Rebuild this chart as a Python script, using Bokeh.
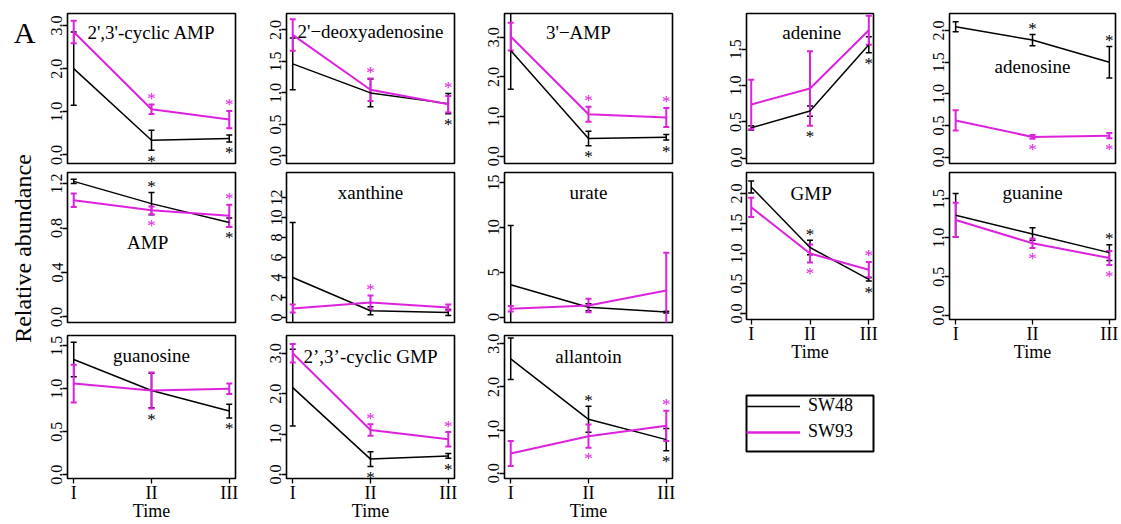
import math
from bokeh.plotting import figure
from bokeh.models import (Range1d, FixedTicker, ColumnDataSource, Whisker, TeeHead,
                          Label, Legend, LegendItem)
from bokeh.layouts import row, column
from bokeh.core.properties import value
from bokeh.embed import file_html
from bokeh.resources import INLINE

FONT = "Liberation Serif"
BLACK = "#000000"
MAGENTA = "#DD22DD"

# ---------------- data ----------------
time_points = [1, 2, 3]
time_labels = ["I", "II", "III"]
series_names = ["SW48", "SW93"]

# star flags: 1 = asterisk above the error bars, -1 = below, 0 = none
cAMP_sw48 = [2.0, 0.34, 0.38];   cAMP_sw48_err = [0.85, 0.23, 0.08];  cAMP_sw48_star = [0, -1, -1]
cAMP_sw93 = [2.85, 1.06, 0.82];  cAMP_sw93_err = [0.26, 0.11, 0.20];  cAMP_sw93_star = [0, 1, 1]
cAMP_ticks = [0, 1, 2, 3];       cAMP_tick_labels = ["0.0", "1.0", "2.0", "3.0"]

dAdo_sw48 = [1.46, 1.0, 0.83];   dAdo_sw48_err = [0.41, 0.22, 0.16];  dAdo_sw48_star = [0, 0, -1]
dAdo_sw93 = [1.92, 1.05, 0.82];  dAdo_sw93_err = [0.25, 0.18, 0.13];  dAdo_sw93_star = [0, 1, 1]
dAdo_ticks = [0, 0.5, 1, 1.5, 2]; dAdo_tick_labels = ["0.0", "0.5", "1.0", "1.5", "2.0"]

AMP3_sw48 = [2.67, 0.45, 0.48];  AMP3_sw48_err = [0.98, 0.18, 0.07];  AMP3_sw48_star = [0, -1, -1]
AMP3_sw93 = [3.02, 1.06, 0.98];  AMP3_sw93_err = [0.35, 0.19, 0.24];  AMP3_sw93_star = [0, 1, 1]
AMP3_ticks = [0, 1, 2, 3];       AMP3_tick_labels = ["0.0", "1.0", "2.0", "3.0"]

ade_sw48 = [0.42, 0.65, 1.56];   ade_sw48_err = [0.03, 0.07, 0.11];   ade_sw48_star = [0, -1, -1]
ade_sw93 = [0.74, 0.96, 1.76];   ade_sw93_err = [0.34, 0.51, 0.20];   ade_sw93_star = [0, 0, 1]
ade_ticks = [0, 0.5, 1, 1.5];    ade_tick_labels = ["0.0", "0.5", "1.0", "1.5"]

ado_sw48 = [2.06, 1.85, 1.5];    ado_sw48_err = [0.08, 0.09, 0.25];   ado_sw48_star = [0, 1, 1]
ado_sw93 = [0.58, 0.32, 0.34];   ado_sw93_err = [0.16, 0.03, 0.04];   ado_sw93_star = [0, -1, -1]
ado_ticks = [0, 0.5, 1, 1.5, 2]; ado_tick_labels = ["0.0", "0.5", "1.0", "1.5", "2.0"]

AMP_sw48 = [1.22, 1.02, 0.85];   AMP_sw48_err = [0.02, 0.10, 0.04];   AMP_sw48_star = [0, 1, -1]
AMP_sw93 = [1.05, 0.96, 0.91];   AMP_sw93_err = [0.06, 0.035, 0.10];  AMP_sw93_star = [0, -1, 1]
AMP_ticks = [0, 0.4, 0.8, 1.2];  AMP_tick_labels = ["0.0", "0.4", "0.8", "1.2"]

xan_sw48 = [4.0, 0.67, 0.5];     xan_sw48_err = [5.5, 0.4, 0.3];      xan_sw48_star = [0, 0, 0]
xan_sw93 = [0.9, 1.5, 1.0];      xan_sw93_err = [0.4, 0.7, 0.3];      xan_sw93_star = [0, 1, 0]
xan_ticks = [0, 2, 4, 6, 8, 10, 12]; xan_tick_labels = ["0", "2", "4", "6", "8", "10", "12"]

ura_sw48 = [3.6, 1.1, 0.56];     ura_sw48_err = [6.6, 0.4, 0.1];      ura_sw48_star = [0, 0, 0]
ura_sw93 = [0.93, 1.3, 2.96];    ura_sw93_err = [0.3, 0.75, 4.2];     ura_sw93_star = [0, 0, 0]
ura_ticks = [0, 5, 10, 15];      ura_tick_labels = ["0", "5", "10", "15"]

GMP_sw48 = [2.11, 1.1, 0.57];    GMP_sw48_err = [0.10, 0.12, 0.03];   GMP_sw48_star = [0, 1, -1]
GMP_sw93 = [1.77, 1.0, 0.73];    GMP_sw93_err = [0.16, 0.15, 0.13];   GMP_sw93_star = [0, -1, 1]
GMP_ticks = [0, 0.5, 1, 1.5, 2]; GMP_tick_labels = ["0.0", "0.5", "1.0", "1.5", "2.0"]

gua_sw48 = [1.29, 1.05, 0.81];   gua_sw48_err = [0.28, 0.08, 0.10];   gua_sw48_star = [0, 0, 1]
gua_sw93 = [1.23, 0.93, 0.74];   gua_sw93_err = [0.22, 0.06, 0.09];   gua_sw93_star = [0, -1, -1]
gua_ticks = [0, 0.5, 1, 1.5];    gua_tick_labels = ["0.0", "0.5", "1.0", "1.5"]

guo_sw48 = [1.34, 0.98, 0.74];   guo_sw48_err = [0.20, 0.20, 0.08];   guo_sw48_star = [0, -1, -1]
guo_sw93 = [1.06, 0.98, 1.0];    guo_sw93_err = [0.22, 0.21, 0.06];   guo_sw93_star = [0, 0, 0]
guo_ticks = [0, 0.5, 1, 1.5];    guo_tick_labels = ["0.0", "0.5", "1.0", "1.5"]

cGMP_sw48 = [2.15, 0.38, 0.46];  cGMP_sw48_err = [0.95, 0.18, 0.06];  cGMP_sw48_star = [0, -1, -1]
cGMP_sw93 = [3.0, 1.1, 0.87];    cGMP_sw93_err = [0.23, 0.14, 0.18];  cGMP_sw93_star = [0, 1, 1]
cGMP_ticks = [0, 1, 2, 3];       cGMP_tick_labels = ["0.0", "1.0", "2.0", "3.0"]

all_sw48 = [2.65, 1.25, 0.78];   all_sw48_err = [0.48, 0.30, 0.26];   all_sw48_star = [0, 1, -1]
all_sw93 = [0.46, 0.86, 1.1];    all_sw93_err = [0.29, 0.27, 0.35];   all_sw93_star = [0, -1, 1]
all_ticks = [0, 1, 2, 3];        all_tick_labels = ["0.0", "1.0", "2.0", "3.0"]

# ---------------- helpers ----------------
def add_series(p, vals, errs, color, lw):
    r = p.line(x=time_points, y=vals, line_color=color, line_width=lw)
    src = ColumnDataSource(dict(x=time_points,
                                upper=[v + e for v, e in zip(vals, errs)],
                                lower=[v - e for v, e in zip(vals, errs)]))
    p.add_layout(Whisker(base="x", upper="upper", lower="lower", source=src,
                         line_color=color, line_width=lw,
                         upper_head=TeeHead(size=6, line_color=color, line_width=lw),
                         lower_head=TeeHead(size=6, line_color=color, line_width=lw)))
    return r


def add_stars(p, stars, top, bottom, color):
    sx, sy, so = [], [], []
    for t, s, hi, lo in zip(time_points, stars, top, bottom):
        if s:
            sx.append(t)
            sy.append(hi if s > 0 else lo)
            so.append(-6 if s > 0 else 11)
    if sx:
        p.text(x="x", y="y", text="t", y_offset="o",
               source=ColumnDataSource(dict(x=sx, y=sy, t=["*"] * len(sx), o=so)),
               text_font=value(FONT), text_font_size="17px", text_color=color,
               text_align="center", text_baseline="middle")


def panel(title, ticks, tick_labels, yr, d48, d93, w, h, borders, xaxis,
          title_x=2.0, title_frac=0.13):
    bl, br, bt, bb = borders
    p = figure(width=w, height=h, x_range=Range1d(0.92, 3.08), y_range=Range1d(*yr),
               output_backend="svg", toolbar_location=None,
               x_axis_location="below" if xaxis else None,
               min_border_left=bl, min_border_right=br,
               min_border_top=bt, min_border_bottom=bb)
    p.xgrid.visible = False
    p.ygrid.visible = False
    p.outline_line_color = "black"
    p.outline_line_width = 1.6
    p.outline_line_alpha = 1.0
    p.background_fill_color = "white"
    p.border_fill_color = "white"
    ya = p.yaxis[0]
    ya.ticker = FixedTicker(ticks=ticks)
    ya.major_label_overrides = {t: l for t, l in zip(ticks, tick_labels)}
    ya.major_label_orientation = "parallel"
    ya.major_label_text_font = FONT
    ya.major_label_text_font_size = "16px"
    ya.major_label_text_color = "black"
    ya.major_label_standoff = 0
    ya.major_tick_out = 5
    ya.major_tick_in = 0
    ya.major_tick_line_width = 1.3
    ya.minor_tick_line_color = None
    ya.axis_line_color = None
    if xaxis:
        xa = p.xaxis[0]
        xa.ticker = FixedTicker(ticks=time_points)
        xa.major_label_overrides = {t: l for t, l in zip(time_points, time_labels)}
        xa.major_label_text_font = FONT
        xa.major_label_text_font_size = "18px"
        xa.major_label_text_color = "black"
        xa.major_label_standoff = -1
        xa.major_tick_out = 5
        xa.major_tick_in = 0
        xa.major_tick_line_width = 1.3
        xa.minor_tick_line_color = None
        xa.axis_line_color = None
        xa.axis_label = "Time"
        xa.axis_label_text_font = FONT
        xa.axis_label_text_font_size = "18px"
        xa.axis_label_text_font_style = "normal"
        xa.axis_label_text_color = "black"
        xa.axis_label_standoff = -5
    v48, e48, s48 = d48
    v93, e93, s93 = d93
    add_series(p, v48, e48, BLACK, 1.5)
    add_series(p, v93, e93, MAGENTA, 2.0)
    top = [max(a + b, c + d) for a, b, c, d in zip(v48, e48, v93, e93)]
    bottom = [min(a - b, c - d) for a, b, c, d in zip(v48, e48, v93, e93)]
    add_stars(p, s48, top, bottom, BLACK)
    add_stars(p, s93, top, bottom, MAGENTA)
    ty = yr[1] - title_frac * (yr[1] - yr[0])
    p.add_layout(Label(x=title_x, y=ty, text=title, text_font=FONT, text_font_size="19px",
                       text_color="black", text_align="center", text_baseline="alphabetic"))
    return p

# figure geometry: (width, border_left, border_right) per column; (height, border_top, border_bottom) per row
C1 = (210, 27, 15); C2 = (220, 36, 16); C3 = (220, 34, 18); C4 = (215, 31, 17); C5 = (214, 44, 4)
R1 = (167, 13, 4); R2 = (161, 5, 6); R3 = (195, 7, 42); R2X = (197, 5, 42)

def geo(c, r):
    return dict(w=c[0], h=r[0], borders=(c[1], c[2], r[1], r[2]))

p1 = panel("2',3'-cyclic AMP", cAMP_ticks, cAMP_tick_labels, (-0.2, 3.28),
           (cAMP_sw48, cAMP_sw48_err, cAMP_sw48_star), (cAMP_sw93, cAMP_sw93_err, cAMP_sw93_star),
           xaxis=False, title_frac=0.127, **geo(C1, R1))
p2 = panel("2'\u2212deoxyadenosine", dAdo_ticks, dAdo_tick_labels, (-0.12, 2.26),
           (dAdo_sw48, dAdo_sw48_err, dAdo_sw48_star), (dAdo_sw93, dAdo_sw93_err, dAdo_sw93_star),
           xaxis=False, title_frac=0.12, **geo(C2, R1))
p3 = panel("3'\u2212AMP", AMP3_ticks, AMP3_tick_labels, (-0.18, 3.6),
           (AMP3_sw48, AMP3_sw48_err, AMP3_sw48_star), (AMP3_sw93, AMP3_sw93_err, AMP3_sw93_star),
           xaxis=False, title_x=1.87, title_frac=0.127, **geo(C3, R1))
p4 = panel("adenine", ade_ticks, ade_tick_labels, (-0.07, 1.99),
           (ade_sw48, ade_sw48_err, ade_sw48_star), (ade_sw93, ade_sw93_err, ade_sw93_star),
           xaxis=False, title_x=2.03, title_frac=0.127, **geo(C4, R1))
p5 = panel("adenosine", ado_ticks, ado_tick_labels, (-0.1, 2.27),
           (ado_sw48, ado_sw48_err, ado_sw48_star), (ado_sw93, ado_sw93_err, ado_sw93_star),
           xaxis=False, title_frac=0.353, **geo(C5, R1))
p6 = panel("AMP", AMP_ticks, AMP_tick_labels, (-0.05, 1.30),
           (AMP_sw48, AMP_sw48_err, AMP_sw48_star), (AMP_sw93, AMP_sw93_err, AMP_sw93_star),
           xaxis=False, title_x=1.95, title_frac=0.467, **geo(C1, R2))
p7 = panel("xanthine", xan_ticks, xan_tick_labels, (-0.5, 14.5),
           (xan_sw48, xan_sw48_err, xan_sw48_star), (xan_sw93, xan_sw93_err, xan_sw93_star),
           xaxis=False, title_frac=0.133, **geo(C2, R2))
p8 = panel("urate", ura_ticks, ura_tick_labels, (-0.6, 16.1),
           (ura_sw48, ura_sw48_err, ura_sw48_star), (ura_sw93, ura_sw93_err, ura_sw93_star),
           xaxis=False, title_frac=0.133, **geo(C3, R2))
p9 = panel("GMP", GMP_ticks, GMP_tick_labels, (-0.1, 2.35),
           (GMP_sw48, GMP_sw48_err, GMP_sw48_star), (GMP_sw93, GMP_sw93_err, GMP_sw93_star),
           xaxis=True, title_x=2.02, title_frac=0.14, **geo(C4, R2X))
p10 = panel("guanine", gua_ticks, gua_tick_labels, (-0.05, 1.84),
            (gua_sw48, gua_sw48_err, gua_sw48_star), (gua_sw93, gua_sw93_err, gua_sw93_star),
            xaxis=True, title_frac=0.133, **geo(C5, R2X))
p11 = panel("guanosine", guo_ticks, guo_tick_labels, (-0.045, 1.62),
            (guo_sw48, guo_sw48_err, guo_sw48_star), (guo_sw93, guo_sw93_err, guo_sw93_star),
            xaxis=True, title_frac=0.138, **geo(C1, R3))
p12 = panel("2\u2019,3\u2019-cyclic GMP", cGMP_ticks, cGMP_tick_labels, (-0.1, 3.44),
            (cGMP_sw48, cGMP_sw48_err, cGMP_sw48_star), (cGMP_sw93, cGMP_sw93_err, cGMP_sw93_star),
            xaxis=True, title_frac=0.15, **geo(C2, R3))
p13 = panel("allantoin", all_ticks, all_tick_labels, (-0.12, 3.19),
            (all_sw48, all_sw48_err, all_sw48_star), (all_sw93, all_sw93_err, all_sw93_star),
            xaxis=True, title_frac=0.15, **geo(C3, R3))

# legend figure: its frame is the legend box; the series lines lie outside its ranges
pl = figure(width=215, height=159, x_range=Range1d(10, 11), y_range=Range1d(10, 11),
            output_backend="svg", toolbar_location=None,
            x_axis_location=None, y_axis_location=None,
            min_border_left=56, min_border_right=32, min_border_top=31, min_border_bottom=72)
pl.grid.visible = False
pl.outline_line_color = "black"
pl.outline_line_width = 2
pl.outline_line_alpha = 1.0
r48 = pl.line(x=time_points, y=GMP_sw48, line_color=BLACK, line_width=1.5)
r93 = pl.line(x=time_points, y=GMP_sw93, line_color=MAGENTA, line_width=2.5)
leg = Legend(items=[LegendItem(label=series_names[0], renderers=[r48]),
                    LegendItem(label=series_names[1], renderers=[r93])],
             location="top_left", border_line_color=None, background_fill_alpha=0,
             label_text_font=FONT, label_text_font_size="18px", label_text_color="black",
             glyph_width=54, glyph_height=20, label_height=20, label_width=46,
             label_standoff=8, spacing=5, padding=9, margin=0)
pl.add_layout(leg)

# label figure
pa = figure(width=40, height=523, x_range=Range1d(0, 40), y_range=Range1d(0, 523),
            output_backend="svg", toolbar_location=None, x_axis_location=None,
            y_axis_location=None, min_border=0, outline_line_color=None)
pa.grid.visible = False
pa.add_layout(Label(x=24, y=491, text="A", text_font=FONT, text_font_size="30px",
                    text_color="black", text_align="center", text_baseline="alphabetic"))
pa.add_layout(Label(x=22, y=275, text="Relative abundance", angle=math.pi / 2,
                    text_font=FONT, text_font_size="24px", text_color="black",
                    text_align="center", text_baseline="middle"))

block = column(row(p1, p2, p3), row(p6, p7, p8), row(p11, p12, p13))
col4 = column(p4, p9, pl)
col5 = column(p5, p10)
layout = row(pa, block, col4, col5)

open("out.html", "w").write(file_html(layout, INLINE))
